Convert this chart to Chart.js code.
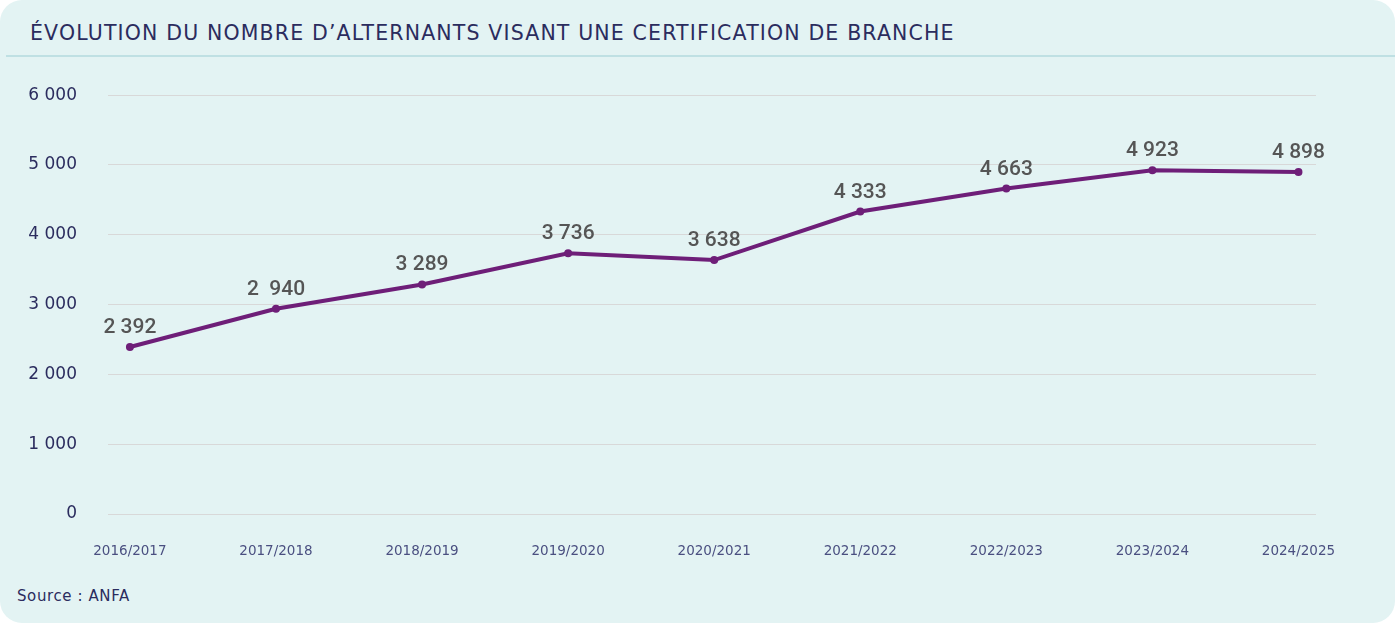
<!DOCTYPE html>
<html lang="fr">
<head>
<meta charset="utf-8">
<title>Évolution du nombre d'alternants</title>
<script src="https://cdn.jsdelivr.net/npm/chart.js@4/dist/chart.umd.min.js"></script>
<style>
  html, body { margin: 0; padding: 0; background: #ffffff; }
  .card {
    position: relative; width: 1395px; height: 623px;
    background: #e3f3f3; border-radius: 22px; overflow: hidden;
    font-family: "DejaVu Sans", sans-serif;
  }
  .title {
    position: absolute; left: 30px; top: 21px;
    font-size: 20.5px; letter-spacing: 1.15px; color: #2b2c5e; white-space: nowrap;
  }
  .sep { position: absolute; left: 6px; right: 0; top: 55px; height: 2px; background: #bfe0e3; }
  .source { position: absolute; left: 17px; top: 587px; font-size: 15px; letter-spacing: 0.6px; color: #2b2c5e; }
  .wrap { position: absolute; left: 0; top: 54px; width: 1395px; height: 526px; }
</style>
</head>
<body>
<div class="card">
  <div class="title">ÉVOLUTION DU NOMBRE D’ALTERNANTS VISANT UNE CERTIFICATION DE BRANCHE</div>
  <div class="sep"></div>
  <div class="wrap"><canvas id="chart"></canvas></div>
  <div class="source">Source : ANFA</div>
</div>
<script>
// données
const years = ['2016/2017', '2017/2018', '2018/2019', '2019/2020', '2020/2021', '2021/2022', '2022/2023', '2023/2024', '2024/2025'];
const alternants = [2392, 2940, 3289, 3736, 3638, 4333, 4663, 4923, 4898];
const pointLabels = ['2 392', '2  940', '3 289', '3 736', '3 638', '4 333', '4 663', '4 923', '4 898'];
const yTicks = [0, 1000, 2000, 3000, 4000, 5000, 6000];
const yTickLabels = ['0', '1 000', '2 000', '3 000', '4 000', '5 000', '6 000'];

const purple = '#6e1e78';

// étiquettes de valeurs au-dessus des points
const valueLabels = {
    id: 'valueLabels',
    afterDatasetsDraw(chart) {
        const ctx = chart.ctx;
        const meta = chart.getDatasetMeta(0);
        ctx.save();
        ctx.font = '500 21px Roboto';
        ctx.fillStyle = '#555555';
        ctx.textAlign = 'center';
        ctx.textBaseline = 'alphabetic';
        meta.data.forEach((pt, i) => { ctx.fillText(pointLabels[i], pt.x, pt.y - 14); });
        ctx.restore();
    }
};

new Chart(document.getElementById('chart'), {
    type: 'line',
    data: {
        datasets: [{
            data: alternants.map((v, i) => ({ x: i, y: v })),
            borderColor: purple, backgroundColor: purple,
            borderWidth: 4, pointRadius: 4, pointHoverRadius: 4, pointBorderWidth: 0,
            tension: 0, clip: false
        }]
    },
    options: {
        responsive: true, maintainAspectRatio: false, animation: false,
        layout: { padding: { top: 30, right: 79, left: 0, bottom: 0 } },
        plugins: { legend: { display: false }, tooltip: { enabled: false } },
        scales: {
            x: {
                type: 'linear', min: -0.15, max: 8.12,
                afterBuildTicks: s => { s.ticks = years.map((_, i) => ({ value: i })); },
                afterFit: s => { s.height = 66; },
                grid: { display: false, drawTicks: false }, border: { display: false },
                ticks: {
                    callback: v => years[v], padding: 29, maxRotation: 0, autoSkip: false,
                    color: '#4a4f80', font: { family: 'DejaVu Sans', size: 13.5 }
                }
            },
            y: {
                min: 0, max: 6000,
                afterBuildTicks: s => { s.ticks = yTicks.map(v => ({ value: v })); },
                afterFit: s => { s.width = 108; },
                grid: { color: '#d8d8d8', lineWidth: 1, drawTicks: false }, border: { display: false },
                ticks: {
                    callback: v => yTickLabels[yTicks.indexOf(v)], padding: 31,
                    color: '#2b2c5e', font: { family: 'DejaVu Sans', size: 17 }
                }
            }
        }
    },
    plugins: [valueLabels]
});
</script>
</body>
</html>
